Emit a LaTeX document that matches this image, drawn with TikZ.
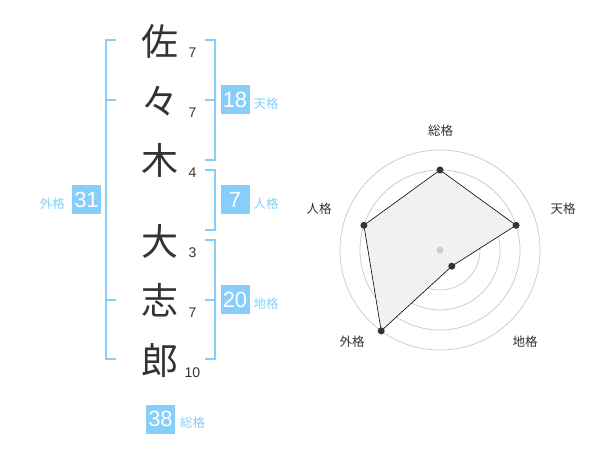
\documentclass[tikz,border=0pt]{standalone}
\usepackage{fontspec}
\setmainfont{Liberation Sans}
\newfontfamily\jp{Noto Sans CJK JP}
\definecolor{sky}{HTML}{87CEFA}
\definecolor{ink}{HTML}{333333}
\begin{document}
\begin{tikzpicture}[x=1pt,y=-1pt,
  kanji/.style={font=\jp\fontsize{37}{37}\selectfont, text=ink, inner sep=0, text height=32.6pt, text depth=4.4pt},
  strk/.style={font=\fontsize{14}{14}\selectfont, text=ink, inner sep=0},
  numbox/.style={fill=sky, text=white, minimum width=29pt, minimum height=29pt, inner sep=0, font=\fontsize{22}{22}\selectfont},
  kaku/.style={font=\jp\fontsize{12.5}{12.5}\selectfont, text=sky, inner sep=0},
  brk/.style={draw=sky, line width=2pt},
  ring/.style={draw=black!22, line width=0.7pt},
  axlab/.style={font=\jp\fontsize{12.5}{12.5}\selectfont, text=ink, inner sep=0},
  vdot/.style={circle, fill=ink, minimum size=7pt, inner sep=0},
]
\useasboundingbox (0,0) rectangle (600,470);
% kanji
\node[kanji] (k1) at (160,41) {佐};
\node[kanji] (k2) at (160,101) {々};
\node[kanji] (k3) at (160,160) {木};
\node[kanji] (k4) at (160,241) {大};
\node[kanji] (k5) at (160,300) {志};
\node[kanji] (k6) at (160,360) {郎};
% stroke counts
\node[strk] (s1) at (192.5,53) {7};
\node[strk] (s2) at (192.5,113) {7};
\node[strk] (s3) at (192.5,173) {4};
\node[strk] (s4) at (192.5,252.5) {3};
\node[strk] (s5) at (192.5,313) {7};
\node[strk] (s6) at (192.5,373) {10};
% brackets
\draw[brk] (116,40) -- (106,40) -- (106,359) -- (116,359);
\draw[brk] (106,100) -- (116,100);
\draw[brk] (106,300) -- (116,300);
\draw[brk] (205,40) -- (215,40) -- (215,160) -- (205,160);
\draw[brk] (205,100) -- (215,100);
\draw[brk] (205,170) -- (215,170) -- (215,230) -- (205,230);
\draw[brk] (205,240) -- (215,240) -- (215,359) -- (205,359);
\draw[brk] (205,300) -- (215,300);
% boxes and labels
\node[numbox] (ten) at (235,100) {18};
\node[kaku, anchor=west] (tenl) at (253.5,104) {天格};
\node[numbox] (jin) at (235,200) {7};
\node[kaku, anchor=west] (jinl) at (253.5,204) {人格};
\node[numbox] (chi) at (235,300) {20};
\node[kaku, anchor=west] (chil) at (253.5,304) {地格};
\node[numbox] (gai) at (86.5,200) {31};
\node[kaku, anchor=east] (gail) at (65,204) {外格};
\node[numbox] (sou) at (160.5,419) {38};
\node[kaku, anchor=west] (soul) at (180,423) {総格};
% radar
\coordinate (c) at (440,250);
\foreach \r in {20,40,60,80,100} \draw[ring] (c) circle[radius=\r];
\coordinate (pa) at (440,170);
\coordinate (pb) at (516.1,225.3);
\coordinate (pc) at (451.8,266.2);
\coordinate (pd) at (381.2,330.9);
\coordinate (pe) at (363.9,225.3);
\draw[fill=black!6, fill opacity=0.9, draw=black, line width=0.6pt] (pa) -- (pb) -- (pc) -- (pd) -- (pe) -- cycle;
\node[circle, fill=black!20, minimum size=7pt, inner sep=0] (cd) at (c) {};
\node[vdot] (da) at (pa) {};
\node[vdot] (db) at (pb) {};
\node[vdot] (dc) at (pc) {};
\node[vdot] (dd) at (pd) {};
\node[vdot] (de) at (pe) {};
\node[axlab] (la) at (440.7,130.7) {総格};
\node[axlab] (lb) at (563,209) {天格};
\node[axlab] (lc) at (525,342) {地格};
\node[axlab] (ld) at (352,342) {外格};
\node[axlab] (le) at (319,209) {人格};
\end{tikzpicture}
\end{document}
